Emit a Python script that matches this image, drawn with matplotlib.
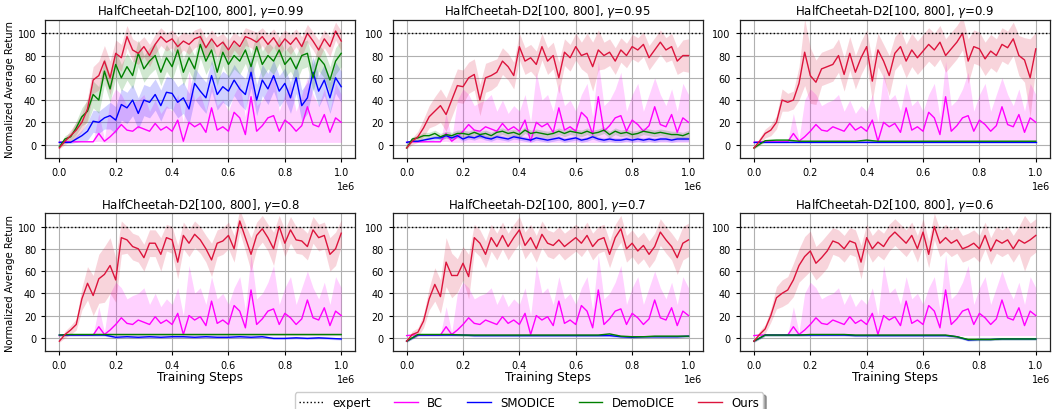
import numpy as np
import matplotlib
matplotlib.use("Agg")
import matplotlib.pyplot as plt

# ---------------- data ----------------
steps = np.arange(0, 1000001, 20000)          # 51 evaluation points
steps_coarse = np.arange(0, 1000001, 40000)   # 26 points for flat curves

gammas = ["0.99", "0.95", "0.9", "0.8", "0.7", "0.6"]
expert_level = 100

# BC (same behaviour in every panel)
bc_mean = [2, 2.5, 2.5, 2.5, 2.5, 2.5, 2.5, 10, 3, 7,
           12, 18, 13, 12, 16, 14, 12, 19, 13, 16,
           12, 22, 3, 20, 16, 19, 11, 33, 13, 16,
           12, 29, 24, 9, 43, 12, 17, 24, 26, 12,
           22, 18, 12, 17, 34, 18, 16, 27, 11, 24, 20]
bc_lo = [2, 2.5, 2.5, 2.5, 2.5, 2.5, 2.5, 3, 2, 2,
         2, 2, 2, 2, 2, 2, 2, 2, 2, 2,
         2, 2, 2, 2, 2, 2, 2, 2, 2, 2,
         2, 2, 2, 2, 2, 2, 2, 2, 2, 2,
         2, 2, 2, 2, 2, 2, 2, 2, 2, 2, 2]
bc_hi = [2, 2.5, 2.5, 2.5, 2.5, 2.5, 3, 28, 5, 40,
         50, 45, 35, 38, 40, 45, 30, 40, 28, 35,
         30, 45, 20, 65, 40, 45, 30, 55, 35, 40,
         30, 45, 55, 25, 75, 35, 40, 50, 65, 30,
         45, 55, 30, 45, 60, 45, 35, 50, 30, 55, 45]

# Ours
ours_mean = {
    "0.99": [-3, 3, 8, 13, 20, 32, 58, 62, 75, 60,
             82, 78, 97, 85, 82, 88, 80, 90, 97, 92,
             95, 88, 93, 90, 95, 97, 87, 95, 88, 92,
             85, 93, 88, 97, 95, 92, 97, 90, 96, 88,
             95, 90, 96, 88, 100, 93, 85, 95, 88, 102, 93],
    "0.95": [-3, 3, 7, 15, 25, 30, 35, 27, 40, 53,
             52, 60, 63, 40, 60, 62, 65, 75, 70, 62,
             88, 75, 78, 72, 88, 75, 80, 60, 83, 78,
             88, 80, 82, 70, 85, 80, 83, 75, 85, 80,
             88, 85, 90, 78, 85, 92, 85, 88, 75, 80, 80],
    "0.9": [-3, 3, 10, 13, 20, 40, 38, 40, 55, 83,
            62, 56, 68, 70, 72, 80, 63, 82, 65, 78,
            88, 57, 85, 75, 62, 82, 88, 75, 85, 78,
            84, 90, 85, 92, 80, 86, 92, 100, 75, 88,
            86, 77, 84, 80, 90, 87, 95, 80, 76, 60, 86],
    "0.8": [-3, 3, 7, 12, 35, 49, 38, 53, 57, 65,
            52, 90, 88, 82, 80, 72, 85, 85, 75, 90,
            88, 68, 92, 85, 93, 88, 80, 70, 85, 87,
            92, 80, 105, 90, 75, 92, 98, 90, 80, 100,
            85, 97, 88, 87, 82, 97, 90, 92, 75, 80, 94],
    "0.7": [-3, 3, 5, 15, 35, 48, 37, 68, 56, 56,
            67, 55, 90, 85, 75, 90, 82, 92, 82, 90,
            97, 83, 90, 80, 93, 85, 83, 88, 82, 86,
            90, 85, 92, 82, 88, 90, 75, 90, 98, 80,
            85, 78, 83, 75, 82, 95, 88, 82, 72, 85, 88],
    "0.6": [-3, 3, 8, 20, 36, 40, 43, 52, 65, 73,
            78, 67, 72, 78, 87, 85, 80, 87, 85, 68,
            90, 80, 86, 82, 90, 95, 90, 85, 92, 80,
            95, 75, 100, 85, 90, 85, 88, 80, 82, 85,
            80, 92, 78, 88, 85, 88, 80, 88, 85, 88, 92],
}
ours_std = {
    "0.99": [1, 3, 5, 7, 8, 10, 12, 13, 14, 15,
             12, 12, 10, 10, 10, 9, 10, 9, 8, 8,
             8, 9, 8, 9, 8, 8, 9, 8, 9, 8,
             9, 8, 9, 8, 8, 9, 8, 9, 8, 9,
             8, 9, 8, 9, 8, 8, 9, 8, 9, 8, 9],
    "0.95": [1, 3, 5, 8, 10, 13, 15, 15, 15, 15,
             15, 14, 14, 14, 13, 13, 12, 12, 12, 12,
             12, 12, 12, 12, 12, 12, 12, 14, 12, 12,
             12, 12, 18, 22, 18, 12, 12, 12, 11, 11,
             11, 11, 11, 11, 11, 11, 11, 12, 12, 14, 15],
    "0.9": [1, 3, 4, 5, 6, 10, 8, 8, 15, 30,
            25, 20, 15, 15, 15, 15, 15, 15, 15, 15,
            15, 18, 15, 15, 18, 15, 15, 15, 15, 15,
            15, 15, 15, 15, 15, 15, 15, 15, 20, 15,
            15, 15, 15, 15, 15, 15, 15, 18, 20, 35, 15],
    "0.8": [1, 3, 4, 5, 10, 15, 18, 22, 25, 25,
            20, 15, 12, 12, 12, 12, 12, 12, 15, 12,
            12, 15, 12, 12, 12, 12, 12, 15, 12, 12,
            12, 12, 10, 12, 15, 12, 12, 12, 15, 10,
            12, 12, 12, 12, 12, 12, 12, 12, 15, 15, 12],
    "0.7": [1, 3, 4, 6, 10, 15, 15, 22, 20, 15,
            15, 20, 12, 12, 12, 12, 12, 12, 12, 12,
            12, 12, 12, 12, 12, 12, 12, 12, 12, 12,
            12, 12, 12, 12, 12, 12, 12, 12, 12, 12,
            12, 12, 12, 12, 12, 12, 12, 12, 15, 15, 15],
    "0.6": [1, 3, 4, 6, 10, 12, 12, 15, 15, 18,
            18, 15, 15, 15, 12, 12, 12, 12, 12, 15,
            12, 12, 12, 12, 12, 12, 12, 12, 12, 12,
            12, 12, 12, 12, 12, 12, 12, 12, 12, 12,
            12, 12, 12, 12, 12, 12, 12, 12, 25, 15, 15],
}

# SMODICE / DemoDICE with visible dynamics (gamma = 0.99, 0.95)
smodice_mean = {
    "0.99": [2, 2, 2, 5, 8, 12, 21, 20, 24, 26,
             22, 36, 33, 40, 28, 40, 38, 45, 35, 47,
             46, 38, 42, 32, 55, 48, 42, 62, 45, 52,
             48, 58, 50, 45, 65, 40, 58, 50, 62, 48,
             55, 42, 60, 35, 42, 65, 48, 58, 42, 60, 52],
    "0.95": [2, 3, 3, 4, 5, 6, 6, 8, 6, 8,
             5, 7, 6, 8, 6, 5, 7, 6, 5, 7,
             6, 5, 4, 6, 5, 4, 5, 6, 4, 5,
             6, 4, 5, 7, 5, 4, 5, 4, 4, 5,
             4, 5, 4, 5, 4, 5, 5, 4, 5, 5, 5],
}
smodice_std = {
    "0.99": [1, 1, 1, 3, 5, 8, 10, 10, 10, 12,
             12, 14, 14, 14, 14, 14, 14, 14, 14, 14,
             14, 14, 14, 14, 14, 14, 14, 14, 14, 14,
             14, 14, 14, 14, 14, 14, 14, 14, 14, 14,
             14, 14, 14, 14, 14, 14, 14, 14, 14, 14, 14],
    "0.95": [1, 1, 1, 1.5, 2, 2, 2, 2, 2, 2,
             2, 2, 2, 2, 2, 2, 2, 2, 2, 2,
             2, 2, 2, 2, 2, 2, 2, 2, 2, 2,
             2, 2, 2, 2, 2, 2, 2, 2, 2, 2,
             2, 2, 2, 2, 2, 2, 2, 2, 2, 2, 2],
}
demodice_mean = {
    "0.99": [-2, 5, 7, 15, 25, 30, 45, 40, 66, 50,
             72, 60, 70, 62, 82, 68, 75, 80, 65, 78,
             70, 85, 65, 78, 68, 90, 75, 85, 65, 83,
             72, 80, 75, 85, 70, 88, 72, 80, 75, 85,
             72, 78, 68, 80, 82, 60, 78, 72, 58, 75, 82],
    "0.95": [-3, 5, 6, 8, 8, 10, 7, 9, 8, 10,
             10, 9, 11, 9, 10, 8, 11, 12, 10, 11,
             9, 13, 10, 11, 10, 9, 10, 12, 10, 12,
             11, 10, 12, 10, 11, 13, 9, 12, 10, 11,
             9, 10, 12, 11, 10, 11, 10, 9, 9, 8, 10],
}
demodice_std = {
    "0.99": [1, 3, 4, 6, 8, 10, 12, 12, 12, 12,
             12, 12, 12, 12, 12, 12, 12, 12, 12, 12,
             12, 12, 12, 12, 12, 12, 12, 12, 12, 12,
             12, 12, 12, 12, 12, 12, 12, 12, 12, 12,
             12, 12, 12, 12, 12, 12, 12, 12, 12, 12, 12],
    "0.95": [1, 2, 2, 3, 3, 3, 3, 3, 3, 3,
             3, 3, 3, 3, 3, 3, 3, 3, 3, 3,
             3, 3, 3, 3, 3, 3, 3, 3, 3, 3,
             3, 3, 3, 3, 3, 3, 3, 3, 3, 3,
             3, 3, 3, 3, 3, 3, 3, 3, 3, 3, 3],
}

# Nearly flat SMODICE / DemoDICE (gamma <= 0.9), coarse grid
smodice_flat = {
    "0.9": [2.5, 2.5, 2.5, 2.5, 2.5, 2.5, 2.5, 2.5, 2.5, 2.5, 2.5, 2.5, 2.5,
            2.5, 2.5, 2.5, 2.5, 2.5, 2.5, 2.5, 2.5, 2.5, 2.5, 2.5, 2.5, 2.5],
    "0.8": [2.5, 2.5, 2.5, 2.5, 2.5, 0.5, 1, 0.5, 1, 0.5, 1, 1, 0.5,
            1, 0.5, 0.5, 1, 0.5, 1, -0.5, -0.5, 0, -0.5, 0, -0.5, -1],
    "0.7": [-3, 2.5, 2.5, 2.5, 2.5, 2.5, 2, 2, 2, 2, 2, 2, 2,
            2, 2, 2, 2, 2, 2, 1, 0.5, 1, 1, 1, 1, 1.5],
    "0.6": [-3, 2.5, 2.5, 2.5, 2.5, 2.5, 2.5, 2.5, 2.5, 2, 2, 2, 2,
            2, 2, 2, 2, 2, 1, -2, -1.5, -1.5, -1, -1, -1, -1],
}
demodice_flat = {
    "0.9": [-3, 3.5, 4, 4, 3, 3, 3, 3, 3, 3, 4, 3, 3,
            3, 3, 3, 3, 3, 3, 3, 3, 3, 3, 3, 3, 3],
    "0.8": [2.5, 3, 3, 3, 3, 3, 3, 3, 3, 3, 3, 3, 3,
            3, 3, 3, 3, 3, 3, 3, 3, 3, 3, 3, 3, 3],
    "0.7": [-3, 3, 3, 3, 3, 2.5, 2.5, 2.5, 2.5, 2.5, 2.5, 2.5, 2.5,
            2.5, 2.5, 2.5, 2.5, 2.5, 3.5, 1.5, 1, 1, 1.5, 1.5, 1.5, 1.5],
    "0.6": [-3, 2.5, 2.5, 2.5, 2.5, 3, 3, 3, 3, 2.5, 2.5, 2.5, 2.5,
            2.5, 2.5, 2.5, 2.5, 2.5, 1, -1.5, -1.5, -1.5, -1, -1, -1, -1],
}
flat_std = 1.0

# ---------------- style ----------------
col_bc = "#ff00ff"
col_smo = "#0000ff"
col_demo = "#008000"
col_ours = "#dc143c"
alpha_band = 0.18

plt.rcParams["font.family"] = ["DejaVu Sans"]

fig, axes = plt.subplots(2, 3, figsize=(10.52, 4.10), dpi=100)
fig.subplots_adjust(left=0.043, right=0.998, top=0.949, bottom=0.141,
                    wspace=0.12, hspace=0.40)

handles = None
for k, (ax, g) in enumerate(zip(axes.flat, gammas)):
    h_exp = ax.axhline(expert_level, color="black", linestyle=":", linewidth=1.0,
                       label="expert", zorder=3)
    # BC
    ax.fill_between(steps, bc_lo, bc_hi, color=col_bc, alpha=alpha_band, linewidth=0)
    h_bc, = ax.plot(steps, bc_mean, color=col_bc, linewidth=1.0, label="BC")
    # SMODICE / DemoDICE
    if g in smodice_mean:
        m = np.array(smodice_mean[g]); s = np.array(smodice_std[g])
        ax.fill_between(steps, m - s, m + s, color=col_smo, alpha=alpha_band, linewidth=0)
        h_smo, = ax.plot(steps, m, color=col_smo, linewidth=1.0, label="SMODICE")
        m = np.array(demodice_mean[g]); s = np.array(demodice_std[g])
        ax.fill_between(steps, m - s, m + s, color=col_demo, alpha=alpha_band, linewidth=0)
        h_demo, = ax.plot(steps, m, color=col_demo, linewidth=1.0, label="DemoDICE")
    else:
        m = np.array(smodice_flat[g])
        ax.fill_between(steps_coarse, m - flat_std, m + flat_std, color=col_smo,
                        alpha=alpha_band, linewidth=0)
        h_smo, = ax.plot(steps_coarse, m, color=col_smo, linewidth=1.0, label="SMODICE")
        m = np.array(demodice_flat[g])
        ax.fill_between(steps_coarse, m - flat_std, m + flat_std, color=col_demo,
                        alpha=alpha_band, linewidth=0)
        h_demo, = ax.plot(steps_coarse, m, color=col_demo, linewidth=1.0, label="DemoDICE")
    # Ours
    m = np.array(ours_mean[g]); s = np.array(ours_std[g])
    ax.fill_between(steps, m - s, m + s, color=col_ours, alpha=alpha_band, linewidth=0)
    h_ours, = ax.plot(steps, m, color=col_ours, linewidth=1.0, label="Ours")

    ax.set_title("HalfCheetah-D2[100, 800], $\\gamma$=" + g, fontsize=8.5, pad=4)
    ax.set_xlim(-50000, 1050000)
    ax.set_ylim(-12, 112)
    ax.set_yticks([0, 20, 40, 60, 80, 100])
    ax.set_xticks([0, 200000, 400000, 600000, 800000, 1000000])
    ax.ticklabel_format(axis="x", style="sci", scilimits=(0, 0), useMathText=False)
    ax.xaxis.get_offset_text().set_fontsize(7)
    ax.tick_params(labelsize=7, length=3, width=0.8)
    ax.grid(True, color="#b0b0b0", linewidth=0.8)
    ax.set_axisbelow(True)
    for sp in ax.spines.values():
        sp.set_linewidth(0.9)
        sp.set_color("#222222")
    if k % 3 == 0:
        ax.set_ylabel("Normalized Average Return", fontsize=7.2, labelpad=2)
    if k >= 3:
        ax.set_xlabel("Training Steps", fontsize=8.7, labelpad=0)
    handles = [h_exp, h_bc, h_smo, h_demo, h_ours]

fig.legend(handles, [h.get_label() for h in handles], loc="upper center",
           bbox_to_anchor=(0.503, 0.055), ncol=5, fontsize=8.5, frameon=True,
           shadow=True, fancybox=True, borderpad=0.35, columnspacing=2.0,
           handlelength=2.0)

fig.savefig("out.png", dpi=100)
